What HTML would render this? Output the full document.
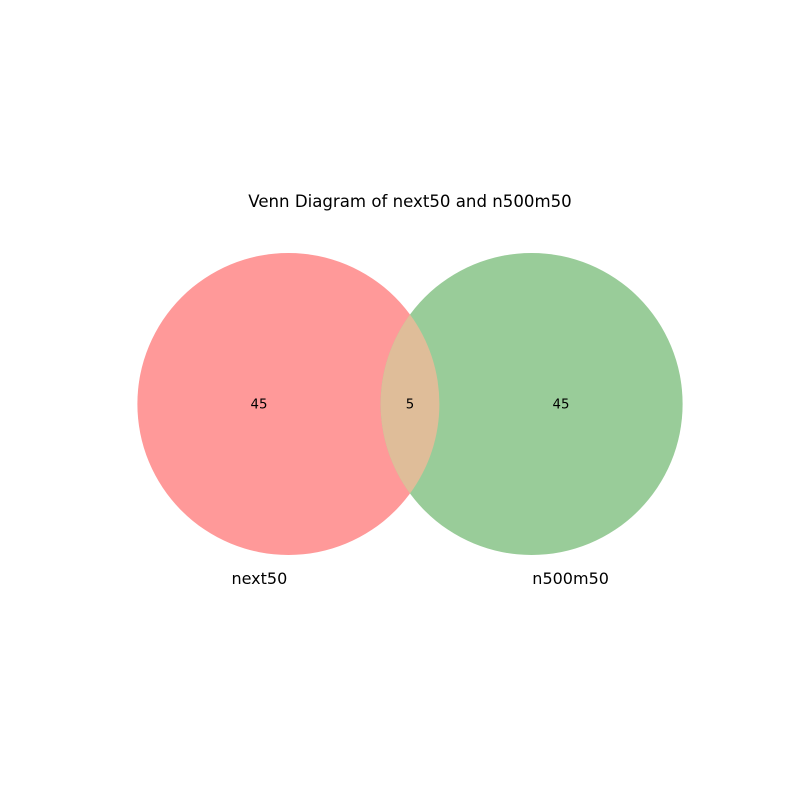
<!DOCTYPE html>
<html><head><meta charset="utf-8"><style>
html,body{margin:0;padding:0;background:#fff;}
svg{display:block;font-family:"DejaVu Sans","Liberation Sans",sans-serif;}
</style></head><body>
<svg id="chart" width="800" height="800" viewBox="0 0 800 800">
<rect width="800" height="800" fill="#fff"/>
<text x="410" y="207" text-anchor="middle" font-size="16.6" fill="#000">Venn Diagram of next50 and n500m50</text>
</svg>
<script>
const setNames = ["next50", "n500m50"];
const setSizes = [50, 50];
const overlapSize = [5];
const regionCounts = [45, 5, 45];

const svg = document.getElementById('chart');
const NS = 'http://www.w3.org/2000/svg';
const cx0 = 410, cy = 404, rMax = 151;
const rA = rMax * Math.sqrt(setSizes[0] / Math.max(setSizes[0], setSizes[1]));
const rB = rMax * Math.sqrt(setSizes[1] / Math.max(setSizes[0], setSizes[1]));
const unit = Math.PI * rA * rA / setSizes[0];
const target = overlapSize[0] * unit;
function lens(d) {
  if (d >= rA + rB) return 0;
  if (d <= Math.abs(rA - rB)) return Math.PI * Math.min(rA, rB) ** 2;
  const a = rA*rA*Math.acos((d*d + rA*rA - rB*rB)/(2*d*rA));
  const b = rB*rB*Math.acos((d*d + rB*rB - rA*rA)/(2*d*rB));
  const c = 0.5*Math.sqrt((-d+rA+rB)*(d+rA-rB)*(d-rA+rB)*(d+rA+rB));
  return a + b - c;
}
let lo = Math.abs(rA - rB) + 1e-6, hi = rA + rB;
for (let i = 0; i < 100; i++) { const m = (lo + hi) / 2; if (lens(m) > target) lo = m; else hi = m; }
const dist = (lo + hi) / 2;
const xA = cx0 - dist / 2, xB = cx0 + dist / 2;

const cA = document.createElementNS(NS, 'circle');
cA.setAttribute('cx', xA); cA.setAttribute('cy', cy); cA.setAttribute('r', rA);
cA.setAttribute('fill', '#ff9999');


svg.appendChild(cA);
const cB = document.createElementNS(NS, 'circle');
cB.setAttribute('cx', xB); cB.setAttribute('cy', cy); cB.setAttribute('r', rB);
cB.setAttribute('fill', '#99cc99');


svg.appendChild(cB);

const ix = (dist*dist + rA*rA - rB*rB) / (2*dist);
const iy = Math.sqrt(Math.max(0, rA*rA - ix*ix));
const px = xA + ix;
const lensPath = document.createElementNS(NS, 'path');
lensPath.setAttribute('d', `M${px},${cy-iy} A${rB},${rB} 0 0 0 ${px},${cy+iy} A${rA},${rA} 0 0 0 ${px},${cy-iy} Z`);
lensPath.setAttribute('fill', '#dfbd99');


svg.appendChild(lensPath);

const leftEdgeB = xB - rB, rightEdgeA = xA + rA;
const labelX = [((xA - rA) + leftEdgeB) / 2, (leftEdgeB + rightEdgeA) / 2, (rightEdgeA + xB + rB) / 2];
const regionNames = ['count-next50-only', 'count-both', 'count-n500m50-only'];
regionCounts.forEach((v, i) => {
  const t = document.createElementNS(NS, 'text');
  t.setAttribute('x', labelX[i]); t.setAttribute('y', cy + 4.5);
  t.setAttribute('text-anchor', 'middle'); t.setAttribute('font-size', '13.3');
  t.textContent = v;
  
  
  svg.appendChild(t);
});

const setLabelX = [xA - 29, xB + 39];
const setLabelNames = ['set-label-next50', 'set-label-n500m50'];
setNames.forEach((n, i) => {
  const t = document.createElementNS(NS, 'text');
  t.setAttribute('x', setLabelX[i]); t.setAttribute('y', 584);
  t.setAttribute('text-anchor', 'middle'); t.setAttribute('font-size', '16');
  t.textContent = n;
  
  
  svg.appendChild(t);
});
</script>
</body></html>
